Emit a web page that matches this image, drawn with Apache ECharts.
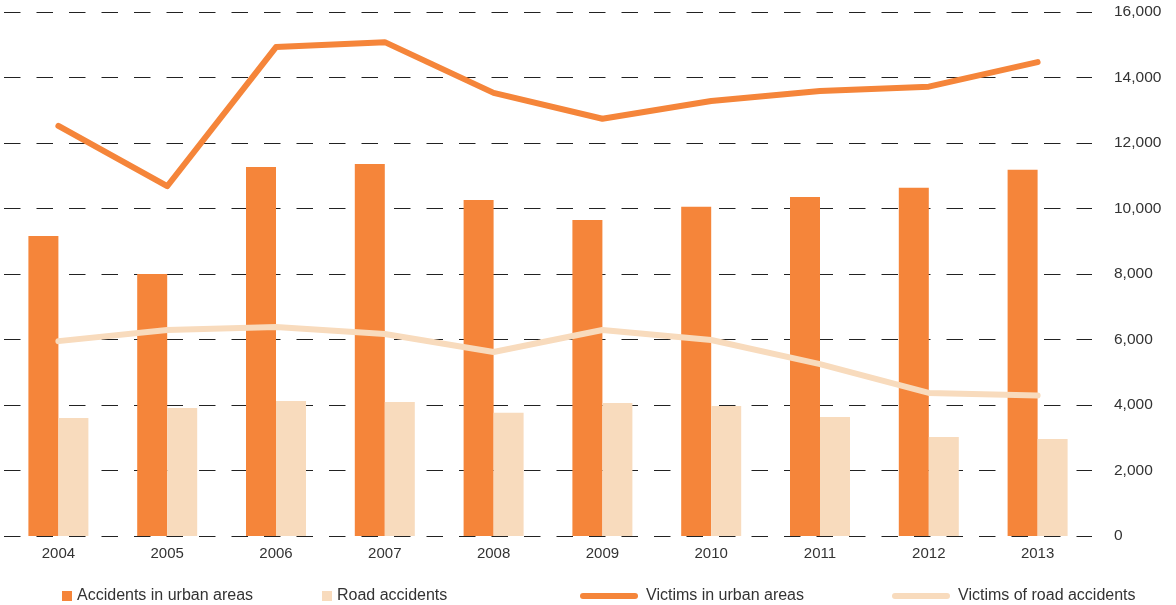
<!DOCTYPE html>
<html>
<head>
<meta charset="utf-8">
<script src="https://cdn.jsdelivr.net/npm/echarts@6/dist/echarts.min.js"></script>
<style>
html,body{margin:0;padding:0;background:#fff;}
#main{width:1176px;height:605px;}
</style>
</head>
<body>
<div id="main"></div>
<script>
var years = ['2004','2005','2006','2007','2008','2009','2010','2011','2012','2013'];
var accidentsUrban = [9160, 8000, 11270, 11360, 10260, 9650, 10050, 10350, 10630, 11180];
var roadAccidents = [3600, 3910, 4120, 4090, 3760, 4060, 3970, 3630, 3020, 2960];
var victimsUrban = [12520, 10680, 14930, 15080, 13530, 12740, 13280, 13590, 13720, 14470];
var victimsRoad = [5950, 6290, 6380, 6170, 5620, 6290, 5985, 5250, 4370, 4290];
var yTicks = [0, 2000, 4000, 6000, 8000, 10000, 12000, 14000, 16000];

var ORANGE = '#F5853A';
var LIGHT = '#F8DBBD';
var FONT = '"Liberation Sans", Arial, sans-serif';
var capsule = 'path://M3,0 L55,0 A3,3 0 0 1 55,6 L3,6 A3,3 0 0 1 3,0 Z';

var chart = echarts.init(document.getElementById('main'), null, {renderer: 'canvas'});
function legendItem(name, left, icon, w, h, pad) {
  return {
    left: left, top: 588, orient: 'horizontal', padding: 0,
    data: [{name: name, icon: icon}],
    itemWidth: w, itemHeight: h, selectedMode: false,
    textStyle: {fontFamily: FONT, fontSize: 16, color: '#333', padding: [0, 0, 0, pad]}
  };
}
chart.setOption({
  animation: false,
  backgroundColor: '#fff',
  grid: {left: 4, right: 84, top: 12, bottom: 69},
  legend: [
    legendItem('Accidents in urban areas', 62, 'rect', 10, 10, 0),
    legendItem('Road accidents', 322, 'rect', 10, 10, 0),
    legendItem('Victims in urban areas', 580, capsule, 58, 6, 3),
    legendItem('Victims of road accidents', 892, capsule, 58, 6, 3)
  ],
  xAxis: {
    type: 'category', data: years,
    axisLine: {show: false}, axisTick: {show: false},
    axisLabel: {fontFamily: FONT, fontSize: 15, color: '#333', margin: 10}
  },
  yAxis: {
    type: 'value', position: 'right', min: 0, max: 16000, interval: 2000,
    axisLine: {show: false}, axisTick: {show: false},
    axisLabel: {
      fontFamily: FONT, fontSize: 15.5, color: '#333', margin: 22, align: 'left',
      formatter: function (v) { return yTicks.indexOf(v) >= 0 ? v.toLocaleString('en-US') : ''; }
    },
    splitLine: {show: true, lineStyle: {color: '#222', width: 1, type: [16.5, 16]}}
  },
  series: [
    {name: 'Accidents in urban areas', type: 'bar', data: accidentsUrban, barWidth: 30, barGap: '0%',
     itemStyle: {color: ORANGE}},
    {name: 'Road accidents', type: 'bar', data: roadAccidents, barWidth: 30, barGap: '0%',
     itemStyle: {color: LIGHT}},
    {name: 'Victims in urban areas', type: 'line', data: victimsUrban, showSymbol: false, symbol: 'none',
     lineStyle: {color: ORANGE, width: 6, cap: 'round', join: 'round'}, itemStyle: {color: ORANGE}},
    {name: 'Victims of road accidents', type: 'line', data: victimsRoad, showSymbol: false, symbol: 'none',
     lineStyle: {color: LIGHT, width: 6, cap: 'round', join: 'round'}, itemStyle: {color: LIGHT}}
  ]
});
</script>
</body>
</html>
